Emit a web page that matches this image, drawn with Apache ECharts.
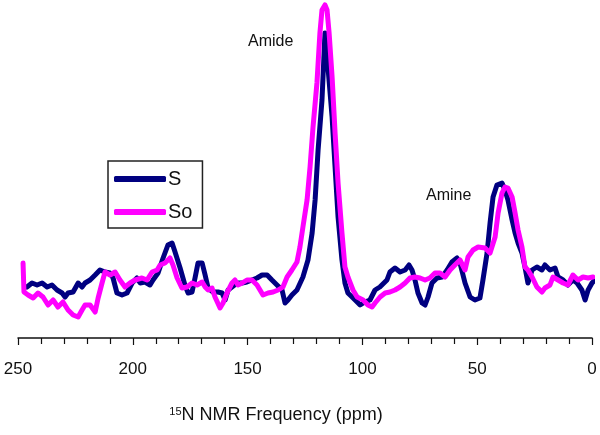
<!DOCTYPE html>
<html>
<head>
<meta charset="utf-8">
<script src="https://cdn.jsdelivr.net/npm/echarts@6/dist/echarts.min.js"></script>
<style>
  html, body { margin: 0; padding: 0; background: #fff; }
  #main { width: 600px; height: 435px; }
</style>
</head>
<body>
<div id="main"></div>
<script>
// 15N NMR spectra, chemical shift (ppm) vs intensity (arbitrary units)
const sPpm = [246.1, 243.9, 241.7, 239.5, 237.3, 235.2, 233.0, 230.8, 229.5, 228.2, 226.0, 223.8, 222.1, 220.8, 218.6, 216.4, 214.3, 212.1, 209.9, 208.6,
  206.9, 204.7, 202.5, 200.3, 198.2, 196.8, 194.7, 192.5, 191.2, 189.0, 186.8, 184.7, 182.9, 181.6, 179.4, 177.3, 175.9, 174.2, 172.9, 171.6,
  169.8, 168.5, 167.2, 165.1, 162.9, 161.1, 159.8, 158.5, 156.8, 154.6, 152.4, 150.3, 148.1, 145.9, 143.7, 141.5, 139.4, 137.2, 135.0, 133.7,
  132.4, 130.7, 128.5, 125.9, 123.7, 121.9, 120.6, 119.3, 117.6, 116.3, 115.0, 113.2, 111.9, 110.6, 108.9, 107.6, 106.3, 104.5, 102.3, 101.0,
  98.9, 96.7, 94.5, 92.4, 89.3, 88.0, 85.8, 83.6, 81.4, 79.7, 78.4, 77.1, 75.8, 74.0, 72.7, 71.4, 69.7, 67.5, 65.3, 63.1,
  61.0, 58.8, 57.5, 55.3, 53.1, 51.0, 48.8, 47.5, 45.7, 44.4, 43.1, 41.4, 39.2, 37.9, 36.6, 34.8, 33.5, 32.2, 30.5, 29.2,
  27.9, 26.1, 24.0, 21.8, 20.5, 18.3, 16.1, 14.8, 12.6, 10.5, 8.3, 6.5, 4.4, 3.0, 1.7, 0, -1.3];
const sInt = [51, 55, 53, 55, 51, 53, 48, 45, 41, 45, 46, 55, 51, 55, 58, 63, 68, 66, 65, 60,
  45, 43, 45, 55, 60, 55, 56, 53, 58, 65, 80, 93, 95, 86, 70, 53, 45, 46, 60, 75,
  75, 63, 50, 46, 46, 45, 38, 48, 51, 55, 55, 56, 58, 60, 63, 63, 58, 53, 48, 35,
  38, 43, 48, 61, 78, 105, 138, 188, 238, 305, 271, 221, 171, 121, 78, 55, 45, 41, 36, 33,
  36, 38, 48, 51, 58, 66, 70, 66, 68, 73, 68, 58, 45, 35, 33, 41, 55, 60, 61, 68,
  76, 80, 75, 55, 41, 38, 40, 58, 85, 115, 141, 153, 155, 148, 138, 118, 105, 95, 85, 71,
  55, 68, 71, 68, 73, 68, 70, 61, 58, 53, 58, 55, 48, 38, 48, 55, 58];

const soPpm = [247.8, 247.4, 245.6, 243.4, 241.3, 239.1, 236.9, 234.7, 232.6, 230.4, 228.2, 226.0, 223.8, 222.1, 220.8, 218.6, 216.4, 215.1, 213.4, 212.1,
  209.9, 207.7, 205.6, 203.4, 201.2, 199.0, 196.0, 193.8, 191.6, 189.4, 188.1, 186.0, 183.8, 182.5, 180.7, 178.6, 176.4, 174.2, 172.0, 169.8,
  168.5, 167.2, 165.5, 164.2, 162.0, 160.7, 159.0, 156.8, 155.5, 154.2, 152.4, 150.3, 148.1, 145.9, 143.3, 141.1, 138.9, 136.7, 134.6, 132.8,
  130.7, 128.5, 127.2, 125.9, 124.1, 122.8, 121.5, 119.8, 118.5, 117.6, 116.3, 115.4, 114.5, 113.2, 111.9, 110.6, 108.9, 107.6, 106.3, 104.1,
  102.3, 99.7, 97.6, 95.8, 94.5, 92.3, 90.1, 88.0, 85.8, 83.6, 81.4, 79.3, 77.1, 74.9, 72.7, 70.6, 68.4, 66.2, 64.0, 61.8,
  59.7, 57.5, 55.3, 54.0, 51.8, 49.6, 46.6, 44.4, 42.2, 40.9, 39.2, 37.9, 36.6, 34.8, 33.5, 32.2, 30.5, 29.2, 27.9, 26.1,
  24.0, 21.8, 20.5, 18.3, 17.0, 14.8, 12.6, 10.5, 8.3, 6.1, 3.9, 1.7, -0.4];
const soInt = [75, 46, 43, 40, 45, 41, 33, 38, 31, 36, 28, 23, 21, 28, 33, 33, 26, 40, 55, 66,
  63, 66, 58, 51, 55, 58, 60, 58, 66, 68, 73, 75, 80, 73, 60, 50, 51, 55, 53, 56,
  51, 48, 50, 41, 30, 35, 45, 55, 58, 53, 55, 58, 58, 53, 43, 45, 46, 48, 51, 61,
  68, 76, 91, 111, 138, 171, 211, 255, 305, 328, 333, 328, 305, 261, 205, 155, 105, 71, 61, 48,
  41, 38, 33, 31, 35, 41, 45, 46, 48, 51, 55, 60, 61, 60, 58, 60, 65, 65, 61, 68,
  73, 78, 68, 81, 88, 91, 90, 85, 101, 125, 145, 151, 150, 141, 125, 108, 91, 71, 68, 61,
  51, 46, 50, 53, 61, 58, 55, 53, 63, 58, 61, 60, 61];

const xTicks = [0, 50, 100, 150, 200, 250];
const peakLabels = ['Amide', 'Amine'];

const font = 'Liberation Sans, Arial, sans-serif';
const pairs = (xs, ys) => xs.map((x, i) => [x, ys[i]]);

const chart = echarts.init(document.getElementById('main'));
chart.setOption({
  animation: false,
  backgroundColor: '#fff',
  grid: { left: 18, right: 8, top: 0, bottom: 97 },
  legend: {
    orient: 'vertical',
    left: 108,
    top: 161,
    data: ['S', 'So'],
    icon: 'roundRect',
    itemWidth: 52,
    itemHeight: 6,
    itemGap: 13,
    padding: [8, 10, 6, 6],
    borderColor: '#222',
    borderWidth: 1.5,
    borderRadius: 0,
    textStyle: { fontSize: 20, color: '#111', fontFamily: font, padding: [0, 0, 0, -3] }
  },
  xAxis: {
    type: 'value',
    min: xTicks[0],
    max: xTicks[xTicks.length - 1],
    interval: 50,
    inverse: true,
    splitLine: { show: false },
    axisLine: { lineStyle: { color: '#111', width: 1.5 } },
    axisTick: { length: 7, lineStyle: { color: '#111', width: 1.2 } },
    minorTick: { show: true, splitNumber: 5, length: 6, lineStyle: { color: '#111', width: 1.2 } },
    axisLabel: { margin: 23, fontSize: 17, color: '#111', fontFamily: font },
    name: '{sup|15}N NMR Frequency (ppm)',
    nameLocation: 'middle',
    nameGap: 68,
    nameTextStyle: {
      fontSize: 18, color: '#111', fontFamily: font, padding: [0, 58, 0, 0],
      rich: { sup: { fontSize: 11, verticalAlign: 'top', fontFamily: font, color: '#111' } }
    }
  },
  yAxis: {
    type: 'value',
    min: 0,
    max: 338,
    show: false
  },
  graphic: [
    { type: 'text', left: 248, top: 34, style: { text: peakLabels[0], fontSize: 16, fill: '#111', fontFamily: font } },
    { type: 'text', left: 426, top: 188, style: { text: peakLabels[1], fontSize: 16, fill: '#111', fontFamily: font } }
  ],
  series: [
    {
      name: 'S',
      type: 'line',
      data: pairs(sPpm, sInt),
      showSymbol: false,
      clip: false,
      color: '#000080',
      lineStyle: { width: 5, color: '#000080', join: 'round', cap: 'round' }
    },
    {
      name: 'So',
      type: 'line',
      data: pairs(soPpm, soInt),
      showSymbol: false,
      clip: false,
      color: '#ff00ff',
      lineStyle: { width: 5, color: '#ff00ff', join: 'round', cap: 'round' }
    }
  ]
});
</script>
</body>
</html>
